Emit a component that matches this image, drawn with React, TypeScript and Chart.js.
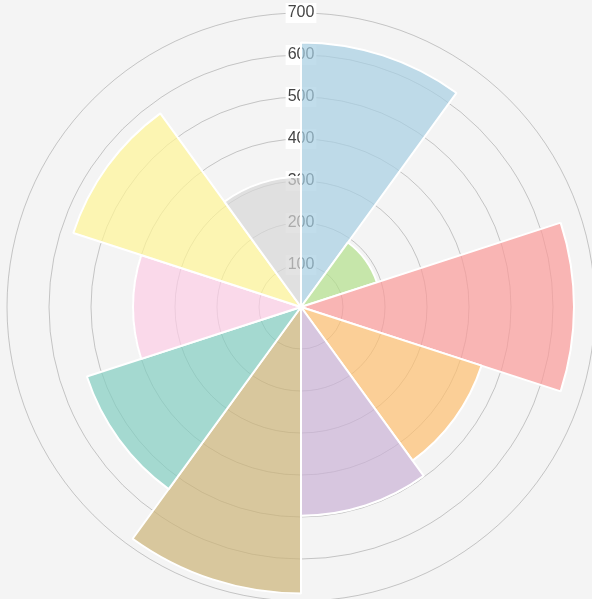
import React, { useEffect, useRef } from "react";
import { Chart, registerables } from "chart.js";

Chart.register(...registerables);

const labels = ["A", "B", "C", "D", "E", "F", "G", "H", "I", "J"];
const values = [630, 190, 650, 452, 497, 682, 536, 400, 570, 310];
const colors = [
  "rgba(166,206,227,0.7)",
  "rgba(178,223,138,0.7)",
  "rgba(251,154,153,0.7)",
  "rgba(253,191,111,0.7)",
  "rgba(202,178,214,0.7)",
  "rgba(204,180,120,0.7)",
  "rgba(130,205,192,0.7)",
  "rgba(252,205,229,0.7)",
  "rgba(255,245,150,0.7)",
  "rgba(215,215,215,0.7)",
];
const tickMin = 0;
const tickMax = 700;
const tickStep = 100;

export default function App() {
  const ref = useRef<HTMLCanvasElement>(null);
  useEffect(() => {
    document.body.style.margin = "0";
    document.body.style.overflow = "hidden";
    document.body.style.background = "#f4f4f4";
    const chart = new Chart(ref.current!, {
      type: "polarArea",
      data: {
        labels,
        datasets: [
          {
            data: values,
            backgroundColor: colors,
            borderColor: "#ffffff",
            borderWidth: 2,
          },
        ],
      },
      options: {
        animation: false,
        responsive: false,
        plugins: { legend: { display: false }, tooltip: { enabled: false } },
        scales: {
          r: {
            min: tickMin,
            max: tickMax,
            ticks: {
              stepSize: tickStep,
              color: "#444444",
              font: { family: "Liberation Sans, Arial, sans-serif", size: 16 },
              backdropColor: "#ffffff",
              backdropPadding: 2,
              z: 0,
            },
            grid: { color: "rgba(0,0,0,0.2)", lineWidth: 1 },
            angleLines: { display: false },
            pointLabels: { display: false },
          },
        },
      },
    });
    return () => chart.destroy();
  }, []);
  return (
    <div style={{ position: "absolute", left: -3, top: 0, width: 608, height: 614 }}>
      <canvas ref={ref} width={608} height={614} />
    </div>
  );
}
